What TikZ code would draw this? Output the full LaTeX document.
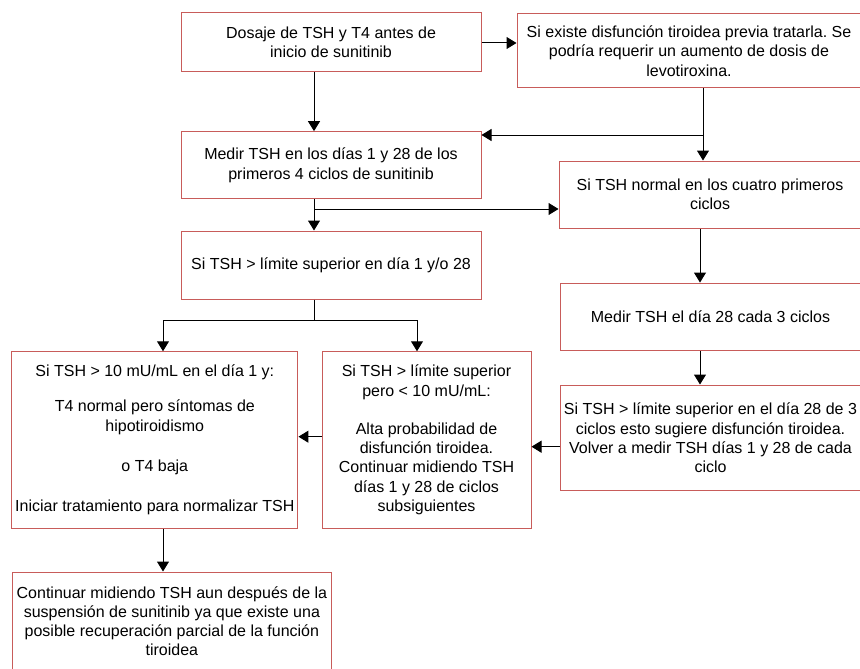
\documentclass[tikz,border=0pt]{standalone}
\usepackage{fontspec}
\setmainfont{Liberation Sans}
\usetikzlibrary{arrows.meta,calc}
\definecolor{boxred}{RGB}{200,92,90}
\frenchspacing
\begin{document}
\begin{tikzpicture}[x=1pt,y=-1pt,
  box/.style={draw=boxred,line width=1pt,fill=white,inner sep=0pt,align=center,
    font=\fontsize{16}{19.2}\selectfont},
  arr/.style={draw=black,line width=1pt,-{Triangle[length=10pt,width=12pt]}},
  ln/.style={draw=black,line width=1pt}]
\useasboundingbox (0,0) rectangle (860,669);
\clip (0,0) rectangle (860,669);

\node[box,minimum width=300pt,minimum height=59pt] (b1) at (331,42.5)
  {Dosaje de TSH y T4 antes de\\inicio de sunitinib};
\node[box,minimum width=344pt,minimum height=74pt] (b2) at (689,51)
  {Si existe disfunción tiroidea previa tratarla. Se\\podría requerir un aumento de dosis de\\levotiroxina.};
\node[box,minimum width=300pt,minimum height=67.3pt] (b3) at (331,165.3)
  {Medir TSH en los días 1 y 28 de los\\primeros 4 ciclos de sunitinib};
\node[box,minimum width=302pt,minimum height=67pt] (b4) at (710,194.5)
  {Si TSH normal en los cuatro primeros\\ciclos};
\node[box,minimum width=300pt,minimum height=68pt] (b5) at (331,265)
  {Si TSH > límite superior en día 1 y/o 28};
\node[box,minimum width=286.3pt,minimum height=176.3pt] (b6) at (154.8,439.9)
  {Si TSH > 10 mU/mL en el día 1 y:\\[15.5pt]T4 normal pero síntomas de\\[1pt]hipotiroidismo\\[21pt]o T4 baja\\[21pt]Iniciar tratamiento para normalizar TSH};
\node[box,minimum width=209pt,minimum height=176.3pt] (b7) at (426.5,439.9)
  {Si TSH > límite superior\\pero < 10 mU/mL:\\[19.2pt]Alta probabilidad de\\disfunción tiroidea.\\Continuar midiendo TSH\\días 1 y 28 de ciclos\\subsiguientes};
\node[box,minimum width=301pt,minimum height=67.7pt] (b8) at (710.5,316.9)
  {Medir TSH el día 28 cada 3 ciclos};
\node[box,minimum width=301pt,minimum height=105.7pt] (b9) at (710.5,437.85)
  {Si TSH > límite superior en el día 28 de 3\\ciclos esto sugiere disfunción tiroidea.\\Volver a medir TSH días 1 y 28 de cada\\ciclo};
\node[box,minimum width=319.7pt,minimum height=98pt] (b10) at (171.9,621)
  {Continuar midiendo TSH aun después de la\\suspensión de sunitinib ya que existe una\\posible recuperación parcial de la función\\tiroidea};

\coordinate (xa) at (314,0);
\coordinate (xb) at (703,0);
\coordinate (xc) at (700,0);
\coordinate (xl) at (163,0);
\coordinate (xm) at (417,0);
\coordinate (yf) at (0,43);
\coordinate (ya) at (0,135);
\coordinate (yb) at (0,209);
\coordinate (yc) at (0,320);
\coordinate (yd) at (0,436.7);
\coordinate (ye) at (0,446.7);

\draw[arr] (b1.east |- yf) -- (b2.west |- yf);
\draw[arr] (b1.south -| xa) -- (b3.north -| xa);
\draw[arr] (b2.south -| xb) -- (b4.north -| xb);
\draw[arr] (xb |- ya) -- (b3.east |- ya);
\draw[arr] (b3.south -| xa) -- (b5.north -| xa);
\draw[arr] (xa |- yb) -- (b4.west |- yb);
\draw[arr] (b4.south -| xc) -- (b8.north -| xc);
\draw[arr] (b8.south -| xc) -- (b9.north -| xc);
\draw[ln] (b5.south -| xa) -- (xa |- yc);
\draw[ln] (xl |- yc) -- (xm |- yc);
\draw[arr] (xl |- yc) -- (b6.north -| xl);
\draw[arr] (xm |- yc) -- (b7.north -| xm);
\draw[arr] (b9.west |- ye) -- (b7.east |- ye);
\draw[arr] (b7.west |- yd) -- (b6.east |- yd);
\draw[arr] (b6.south -| xl) -- (b10.north -| xl);
\end{tikzpicture}
\end{document}
